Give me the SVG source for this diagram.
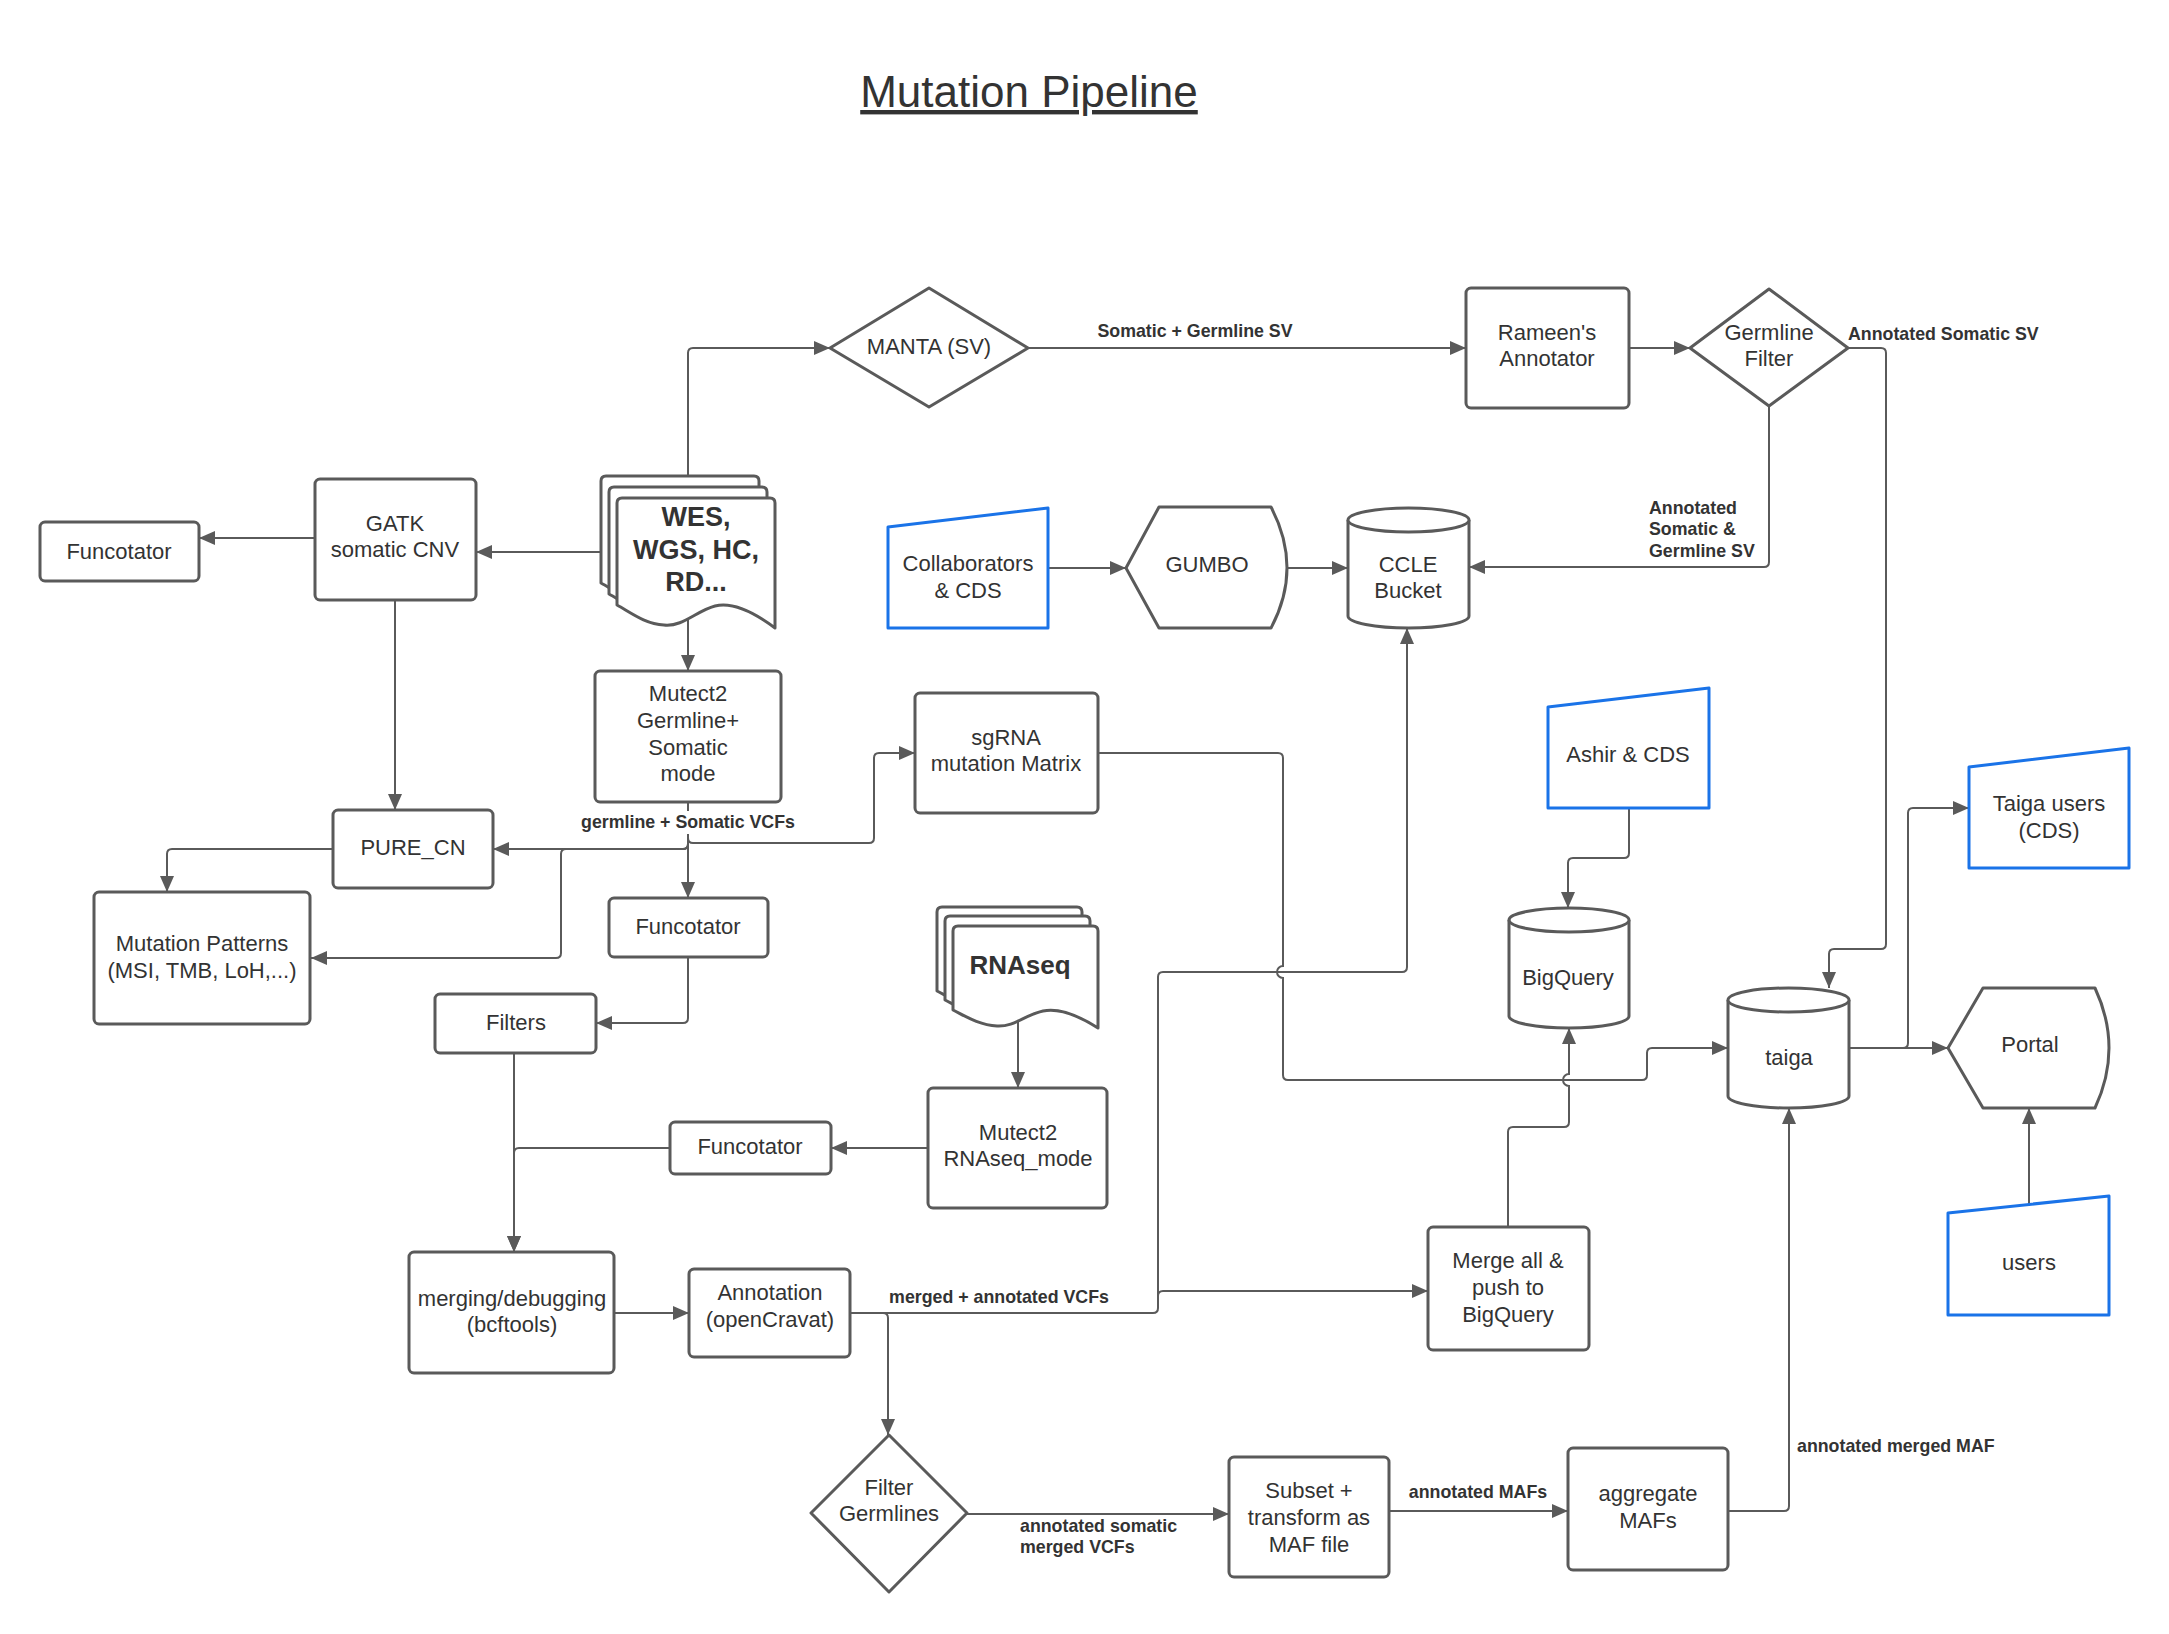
<svg xmlns="http://www.w3.org/2000/svg" width="2169" height="1634" viewBox="0 0 2169 1634">
<style>
.n{fill:#fff;stroke:#5a5a5a;stroke-width:3;stroke-linejoin:round}
.b{fill:#fff;stroke:#1a73e8;stroke-width:3;stroke-linejoin:round}
.t{font-family:"Liberation Sans",Arial,sans-serif;font-size:22px;fill:#333;text-anchor:middle;dominant-baseline:central}
.tb{font-family:"Liberation Sans",Arial,sans-serif;font-size:27px;font-weight:bold;fill:#333;text-anchor:middle;dominant-baseline:central}
.l{font-family:"Liberation Sans",Arial,sans-serif;font-size:17.8px;font-weight:bold;fill:#333;dominant-baseline:central}
.c{fill:none;stroke:#5a5a5a;stroke-width:2;marker-end:url(#ah)}
</style>
<defs>
<marker id="ah" markerUnits="userSpaceOnUse" markerWidth="16" markerHeight="14" refX="16" refY="7" orient="auto">
<path d="M0,0 L16,7 L0,14 Z" fill="#5a5a5a"/>
</marker>
<path id="docW" d="M0,5 Q0,0 5,0 L153,0 Q158,0 158,5 L158,130 C134,112 114,104 98,108 C79,113 66,129 47,127 C28,126 13,114 0,107 Z"/>
<path id="docR" d="M0,5 Q0,0 5,0 L140,0 Q145,0 145,5 L145,102 C123,88 104,82 90,85 C72,89 61,101 44,100 C26,99 12,90 0,84 Z"/>
</defs>
<rect width="2169" height="1634" fill="#fff"/>
<text x="1029" y="107" font-family="Liberation Sans, Arial, sans-serif" font-size="44" fill="#333" text-anchor="middle" text-decoration="underline">Mutation Pipeline</text>

<g id="connectors">
<path class="c" d="M688,476 L688,353 Q688,348 693,348 L830,348"/>
<path class="c" d="M1028,348 L1466,348"/>
<path class="c" d="M1629,348 L1690,348"/>
<path class="c" d="M1848,348 L1881,348 Q1886,348 1886,353 L1886,944 Q1886,949 1881,949 L1834,949 Q1829,949 1829,954 L1829,988"/>
<path class="c" d="M1769,406 L1769,562 Q1769,567 1764,567 L1469,567"/>
<path class="c" d="M1048,568 L1126,568"/>
<path class="c" d="M1287,568 L1348,568"/>
<path class="c" d="M601,552 L476,552"/>
<path class="c" d="M315,538 L199,538"/>
<path class="c" d="M395,600 L395,810"/>
<path class="c" d="M688,616 L688,671"/>
<path class="c" d="M688,802 L688,844 Q688,849 683,849 L493,849"/>
<path class="c" d="M688,802 L688,898"/>
<path class="c" d="M688,838 Q688,843 693,843 L869,843 Q874,843 874,838 L874,758 Q874,753 879,753 L915,753"/>
<path class="c" d="M688,844 Q688,849 683,849 L566,849 Q561,849 561,854 L561,953 Q561,958 556,958 L311,958"/>
<path class="c" d="M333,849 L172,849 Q167,849 167,854 L167,892"/>
<path class="c" d="M688,957 L688,1018 Q688,1023 683,1023 L596,1023"/>
<path class="c" d="M514,1053 L514,1252"/>
<path class="c" d="M670,1148 L519,1148 Q514,1148 514,1153 L514,1252"/>
<path class="c" d="M928,1148 L831,1148"/>
<path class="c" d="M1018,1019 L1018,1088"/>
<path class="c" d="M614,1313 L689,1313"/>
<path class="c" d="M850,1313 L883,1313 Q888,1313 888,1318 L888,1435"/>
<path class="c" d="M850,1313 L1153,1313 Q1158,1313 1158,1308 L1158,977 Q1158,972 1163,972 L1402,972 Q1407,972 1407,967 L1407,628"/>
<path class="c" d="M1158,1296 Q1158,1291 1163,1291 L1428,1291"/>
<path class="c" d="M967,1514 L1229,1514"/>
<path class="c" d="M1389,1511 L1568,1511"/>
<path class="c" d="M1728,1511 L1784,1511 Q1789,1511 1789,1506 L1789,1108"/>
<path class="c" d="M1508,1227 L1508,1132 Q1508,1127 1513,1127 L1564,1127 Q1569,1127 1569,1122 L1569,1086 A6,6 0 0 1 1569,1074 L1569,1028"/>
<path class="c" d="M1098,753 L1278,753 Q1283,753 1283,758 L1283,966 A6,6 0 0 0 1283,978 L1283,1075 Q1283,1080 1288,1080 L1642,1080 Q1647,1080 1647,1075 L1647,1053 Q1647,1048 1652,1048 L1728,1048"/>
<path class="c" d="M1849,1048 L1948,1048"/>
<path class="c" d="M1849,1048 L1903,1048 Q1908,1048 1908,1043 L1908,813 Q1908,808 1913,808 L1969,808"/>
<path class="c" d="M2029,1204 L2029,1108"/>
<path class="c" d="M1629,808 L1629,853 Q1629,858 1624,858 L1573,858 Q1568,858 1568,863 L1568,908"/>
<text class="l" x="1195" y="331" text-anchor="middle">Somatic + Germline SV</text>
<text class="l" x="1848" y="334">Annotated Somatic SV</text>
<text class="l" x="1649" y="508">Annotated</text>
<text class="l" x="1649" y="529">Somatic &amp;</text>
<text class="l" x="1649" y="551">Germline SV</text>
<rect x="580" y="811" width="216" height="23" fill="#fff"/>
<text class="l" x="688" y="822" text-anchor="middle">germline + Somatic VCFs</text>
<text class="l" x="999" y="1297" text-anchor="middle">merged + annotated VCFs</text>
<text class="l" x="1020" y="1526">annotated somatic</text>
<text class="l" x="1020" y="1547">merged VCFs</text>
<text class="l" x="1478" y="1492" text-anchor="middle">annotated MAFs</text>
<text class="l" x="1797" y="1446">annotated merged MAF</text>
</g>

<g id="funcotator1"><rect class="n" x="40" y="522" width="159" height="59" rx="5"/><text class="t" x="119" y="551">Funcotator</text></g>
<g id="gatk"><rect class="n" x="315" y="479" width="161" height="121" rx="5"/><text class="t" x="395" y="523">GATK</text><text class="t" x="395" y="549">somatic CNV</text></g>
<g id="wes">
<use href="#docW" class="n" transform="translate(601,476)"/>
<use href="#docW" class="n" transform="translate(609,487)"/>
<use href="#docW" class="n" transform="translate(617,498)"/>
<text class="tb" x="696" y="517">WES,</text><text class="tb" x="696" y="550">WGS, HC,</text><text class="tb" x="696" y="582">RD...</text>
</g>
<g id="manta"><path class="n" d="M830,348 L929,288 L1028,348 L929,407 Z"/><text class="t" x="929" y="346">MANTA (SV)</text></g>
<g id="rameen"><rect class="n" x="1466" y="288" width="163" height="120" rx="5"/><text class="t" x="1547" y="332">Rameen's</text><text class="t" x="1547" y="358">Annotator</text></g>
<g id="germline-filter"><path class="n" d="M1690,348 L1769,289 L1848,348 L1769,406 Z"/><text class="t" x="1769" y="332">Germline</text><text class="t" x="1769" y="358">Filter</text></g>
<g id="collaborators"><path class="b" d="M888,527 L1048,508 L1048,628 L888,628 Z"/><text class="t" x="968" y="563">Collaborators</text><text class="t" x="968" y="590">&amp; CDS</text></g>
<g id="gumbo"><path class="n" d="M1126,568 L1159,507 L1271,507 Q1303,568 1271,628 L1159,628 Z"/><text class="t" x="1207" y="564">GUMBO</text></g>
<g id="ccle"><path class="n" d="M1348,520 L1348,616 A60.5,12 0 0 0 1469,616 L1469,520 A60.5,12 0 0 0 1348,520 Z"/><path class="n" fill="none" d="M1348,520 A60.5,12 0 0 0 1469,520"/><text class="t" x="1408" y="564">CCLE</text><text class="t" x="1408" y="590">Bucket</text></g>
<g id="mutect2"><rect class="n" x="595" y="671" width="186" height="131" rx="5"/><text class="t" x="688" y="693">Mutect2</text><text class="t" x="688" y="720">Germline+</text><text class="t" x="688" y="747">Somatic</text><text class="t" x="688" y="773">mode</text></g>
<g id="sgrna"><rect class="n" x="915" y="693" width="183" height="120" rx="5"/><text class="t" x="1006" y="737">sgRNA</text><text class="t" x="1006" y="763">mutation Matrix</text></g>
<g id="pure-cn"><rect class="n" x="333" y="810" width="160" height="78" rx="5"/><text class="t" x="413" y="847">PURE_CN</text></g>
<g id="mutation-patterns"><rect class="n" x="94" y="892" width="216" height="132" rx="5"/><text class="t" x="202" y="943">Mutation Patterns</text><text class="t" x="202" y="970">(MSI, TMB, LoH,...)</text></g>
<g id="funcotator2"><rect class="n" x="609" y="898" width="159" height="59" rx="5"/><text class="t" x="688" y="926">Funcotator</text></g>
<g id="filters"><rect class="n" x="435" y="994" width="161" height="59" rx="5"/><text class="t" x="516" y="1022">Filters</text></g>
<g id="rnaseq">
<use href="#docR" class="n" transform="translate(937,907)"/>
<use href="#docR" class="n" transform="translate(945,916)"/>
<use href="#docR" class="n" transform="translate(953,926)"/>
<text class="tb" x="1020" y="965" style="font-size:26px">RNAseq</text>
</g>
<g id="funcotator3"><rect class="n" x="670" y="1122" width="161" height="52" rx="5"/><text class="t" x="750" y="1146">Funcotator</text></g>
<g id="mutect2-rnaseq"><rect class="n" x="928" y="1088" width="179" height="120" rx="5"/><text class="t" x="1018" y="1132">Mutect2</text><text class="t" x="1018" y="1158">RNAseq_mode</text></g>
<g id="merging"><rect class="n" x="409" y="1252" width="205" height="121" rx="5"/><text class="t" x="512" y="1298">merging/debugging</text><text class="t" x="512" y="1324">(bcftools)</text></g>
<g id="annotation"><rect class="n" x="689" y="1269" width="161" height="88" rx="5"/><text class="t" x="770" y="1292">Annotation</text><text class="t" x="770" y="1319">(openCravat)</text></g>
<g id="filter-germlines"><path class="n" d="M811,1513 L889,1435 L967,1513 L889,1592 Z"/><text class="t" x="889" y="1487">Filter</text><text class="t" x="889" y="1513">Germlines</text></g>
<g id="merge-all"><rect class="n" x="1428" y="1227" width="161" height="123" rx="5"/><text class="t" x="1508" y="1260">Merge all &amp;</text><text class="t" x="1508" y="1287">push to</text><text class="t" x="1508" y="1314">BigQuery</text></g>
<g id="subset"><rect class="n" x="1229" y="1457" width="160" height="120" rx="5"/><text class="t" x="1309" y="1490">Subset +</text><text class="t" x="1309" y="1517">transform as</text><text class="t" x="1309" y="1544">MAF file</text></g>
<g id="aggregate"><rect class="n" x="1568" y="1448" width="160" height="122" rx="5"/><text class="t" x="1648" y="1493">aggregate</text><text class="t" x="1648" y="1520">MAFs</text></g>
<g id="ashir"><path class="b" d="M1548,707 L1709,688 L1709,808 L1548,808 Z"/><text class="t" x="1628" y="754">Ashir &amp; CDS</text></g>
<g id="bigquery"><path class="n" d="M1509,920 L1509,1016 A60,12 0 0 0 1629,1016 L1629,920 A60,12 0 0 0 1509,920 Z"/><path class="n" fill="none" d="M1509,920 A60,12 0 0 0 1629,920"/><text class="t" x="1568" y="977">BigQuery</text></g>
<g id="taiga-users"><path class="b" d="M1969,767 L2129,748 L2129,868 L1969,868 Z"/><text class="t" x="2049" y="803">Taiga users</text><text class="t" x="2049" y="830">(CDS)</text></g>
<g id="taiga"><path class="n" d="M1728,1000 L1728,1096 A60.5,12 0 0 0 1849,1096 L1849,1000 A60.5,12 0 0 0 1728,1000 Z"/><path class="n" fill="none" d="M1728,1000 A60.5,12 0 0 0 1849,1000"/><text class="t" x="1789" y="1057">taiga</text></g>
<g id="portal"><path class="n" d="M1948,1048 L1983,988 L2095,988 Q2123,1048 2095,1108 L1983,1108 Z"/><text class="t" x="2030" y="1044">Portal</text></g>
<g id="users"><path class="b" d="M1948,1213 L2109,1196 L2109,1315 L1948,1315 Z"/><text class="t" x="2029" y="1262">users</text></g>
</svg>
